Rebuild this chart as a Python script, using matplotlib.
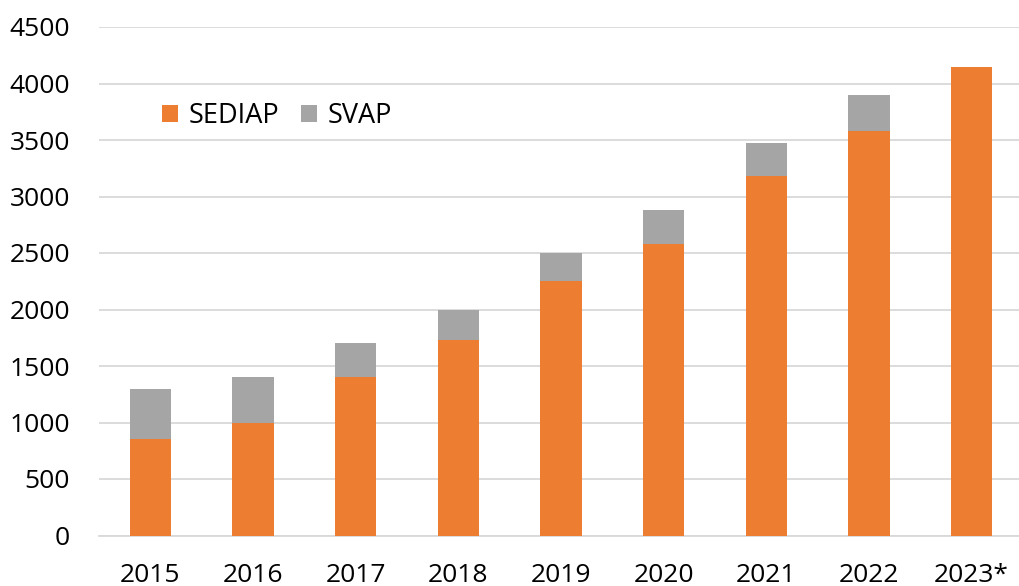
import matplotlib
matplotlib.use('Agg')
import matplotlib.pyplot as plt
import numpy as np

years = ['2015', '2016', '2017', '2018', '2019', '2020', '2021', '2022', '2023*']
sediap = [850, 1000, 1400, 1730, 2250, 2580, 3180, 3580, 4150]
svap = [450, 400, 300, 270, 250, 300, 290, 320, 0]

plt.rcParams['font.family'] = ['Open Sans', 'DejaVu Sans']

fig = plt.figure(figsize=(10.19, 5.86), dpi=100)
ax = fig.add_axes([99 / 1019, 50.5 / 586, 924 / 1019, 508.5 / 586])

x = np.arange(len(years))
ax.bar(x, sediap, width=0.4, color='#ED7D31', label='SEDIAP', zorder=3)
ax.bar(x, svap, width=0.4, bottom=sediap, color='#A5A5A5', label='SVAP', zorder=3)

ax.set_xlim(-0.5, len(years) - 0.5)
ax.set_ylim(0, 4500)
ax.set_yticks(np.arange(0, 4501, 500))
ax.set_xticks(x)
ax.set_xticklabels(years)
ax.yaxis.grid(True, color='#D9D9D9', linewidth=1.3, zorder=0)
ax.set_axisbelow(True)

for s in ['top', 'right', 'left']:
    ax.spines[s].set_visible(False)
ax.spines['bottom'].set_color('#D9D9D9')
ax.spines['bottom'].set_linewidth(1.3)

ax.tick_params(axis='both', length=0, labelsize=19, colors='black')
ax.tick_params(axis='y', pad=21)
ax.tick_params(axis='x', pad=20)

ax.legend(loc='center left', bbox_to_anchor=(63 / 924, (586 - 116 - 50.5) / 508.5),
          ncol=2, frameon=False, fontsize=19.5, handlelength=0.58, handleheight=0.58,
          handletextpad=0.4, columnspacing=0.8, borderaxespad=0, borderpad=0)

fig.savefig('out.png', dpi=100)
